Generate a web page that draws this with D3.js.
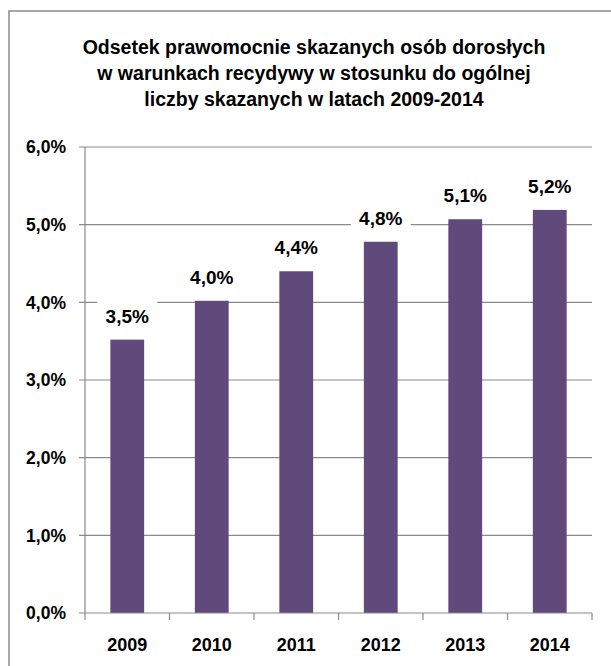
<!DOCTYPE html>
<meta charset="utf-8">
<style>

body {
  margin: 0;
  background: #fff;
}

text {
  font-family: "Liberation Sans", Arial, sans-serif;
  font-weight: bold;
  fill: #000;
}

.frame {
  fill: none;
  stroke: #8a8a8a;
  stroke-width: 1.5;
}

.grid line, .axis-line {
  stroke: #8a8a8a;
  stroke-width: 1.2;
}

.bar {
  fill: #604a7b;
}

</style>

<svg id="chart" width="611" height="666"></svg>

<script src="https://d3js.org/d3.v7.min.js"></script>
<script>

var years = ["2009", "2010", "2011", "2012", "2013", "2014"];
var values = [3.52, 4.02, 4.40, 4.78, 5.07, 5.19];
var yTicks = [0, 1, 2, 3, 4, 5, 6];
var titleLines = [
  "Odsetek prawomocnie skazanych osób dorosłych",
  "w warunkach recydywy w stosunku do ogólnej",
  "liczby skazanych w latach 2009-2014"
];

var svg = d3.select("#chart");

var plotLeft = 85, plotRight = 592, plotTop = 147, plotBottom = 613;

var x = d3.scaleBand()
    .domain(years)
    .range([plotLeft, plotRight])
    .paddingInner(0.6)
    .paddingOuter(0.3);

var y = d3.scaleLinear()
    .domain([0, 6])
    .range([plotBottom, plotTop]);

function fmt(v) {
  return v.toFixed(1).replace(".", ",") + "%";
}

// outer frame (runs off the right and bottom edge)
svg.append("rect")
    .attr("class", "frame")
    .attr("x", 9)
    .attr("y", 11)
    .attr("width", 640)
    .attr("height", 700);

// title
svg.append("text")
    .attr("x", 314)
    .attr("y", 54)
    .attr("text-anchor", "middle")
    .style("font-size", "19.5px")
  .selectAll("tspan")
  .data(titleLines)
  .enter()
  .append("tspan")
    .attr("x", 314)
    .attr("dy", function(d, i) { return i === 0 ? 0 : 26; })
    .text(function(d) { return d; });

// gridlines
svg.append("g")
    .attr("class", "grid")
  .selectAll("line")
  .data(yTicks.filter(function(d) { return d > 0; }))
  .enter()
  .append("line")
    .attr("x1", plotLeft - 6)
    .attr("x2", plotRight)
    .attr("y1", function(d) { return y(d); })
    .attr("y2", function(d) { return y(d); });

// y tick labels
svg.append("g")
  .selectAll("text")
  .data(yTicks)
  .enter()
  .append("text")
    .attr("x", 66)
    .attr("y", function(d) { return y(d); })
    .attr("dy", "0.36em")
    .attr("text-anchor", "end")
    .style("font-size", "17.5px")
    .text(fmt);

// bars
svg.append("g")
  .selectAll("rect")
  .data(values)
  .enter()
  .append("rect")
    .attr("class", "bar")
    .attr("x", function(d, i) { return x(years[i]); })
    .attr("y", function(d) { return y(d); })
    .attr("width", x.bandwidth())
    .attr("height", function(d) { return y(0) - y(d); });

// axes
svg.append("line")
    .attr("class", "axis-line")
    .attr("x1", plotLeft).attr("x2", plotLeft)
    .attr("y1", plotTop).attr("y2", plotBottom);

svg.append("line")
    .attr("class", "axis-line")
    .attr("x1", plotLeft - 6).attr("x2", plotRight)
    .attr("y1", plotBottom).attr("y2", plotBottom);

var step = x.step();
svg.append("g")
  .selectAll("line")
  .data(d3.range(years.length + 1))
  .enter()
  .append("line")
    .attr("class", "axis-line")
    .attr("x1", function(i) { return plotLeft + i * step; })
    .attr("x2", function(i) { return plotLeft + i * step; })
    .attr("y1", plotBottom)
    .attr("y2", plotBottom + 7);

// year labels
svg.append("g")
  .selectAll("text")
  .data(years)
  .enter()
  .append("text")
    .attr("x", function(d) { return x(d) + x.bandwidth() / 2; })
    .attr("y", 651)
    .attr("text-anchor", "middle")
    .style("font-size", "18px")
    .text(function(d) { return d; });

// data labels with white box behind
var labels = svg.append("g")
  .selectAll("g")
  .data(values)
  .enter()
  .append("g")
    .attr("transform", function(d, i) {
      return "translate(" + (x(years[i]) + x.bandwidth() / 2) + "," + (y(d) - 17) + ")";
    });

labels.append("rect")
    .attr("x", -30)
    .attr("y", -22)
    .attr("width", 60)
    .attr("height", 30)
    .attr("fill", "#fff");

labels.append("text")
    .attr("text-anchor", "middle")
    .style("font-size", "19px")
    .text(function(d) { return fmt(d); });

</script>
